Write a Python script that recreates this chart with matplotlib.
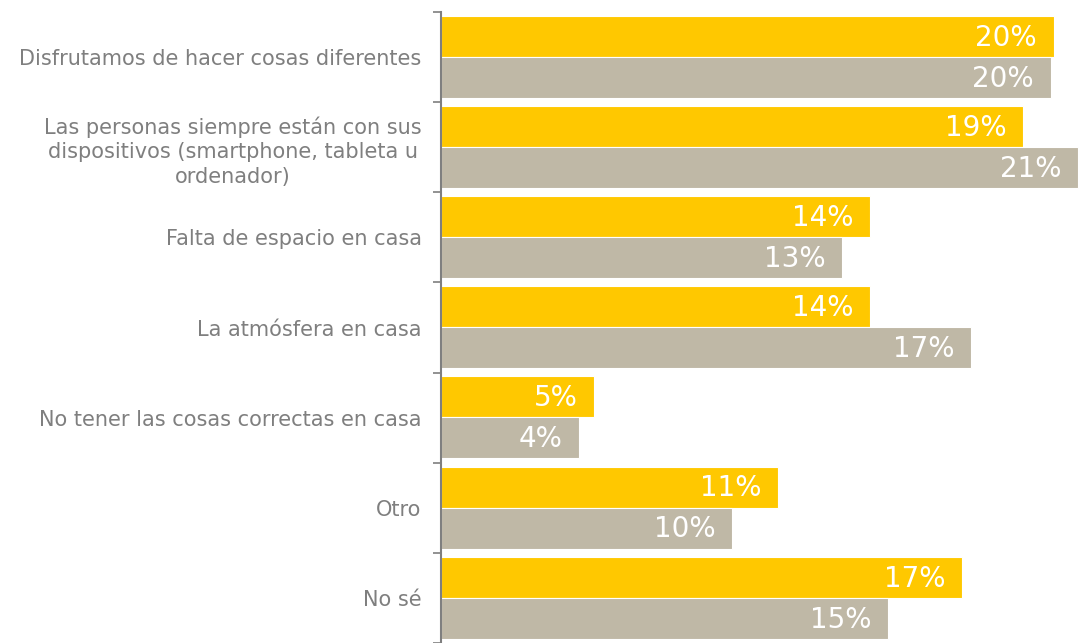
import matplotlib
matplotlib.use("Agg")
import matplotlib.pyplot as plt
import numpy as np

categorias = [
    "Disfrutamos de hacer cosas diferentes",
    "Las personas siempre están con sus\ndispositivos (smartphone, tableta u\nordenador)",
    "Falta de espacio en casa",
    "La atmósfera en casa",
    "No tener las cosas correctas en casa",
    "Otro",
    "No sé",
]
serie_amarilla = [20.0, 19.0, 14.0, 14.0, 5.0, 11.0, 17.0]
serie_gris = [19.9, 20.8, 13.1, 17.3, 4.5, 9.5, 14.6]
etiquetas_amarilla = ["20%", "19%", "14%", "14%", "5%", "11%", "17%"]
etiquetas_gris = ["20%", "21%", "13%", "17%", "4%", "10%", "15%"]

color_amarillo = "#FFC800"
color_gris = "#BFB8A6"
color_texto = "#7F7F7F"

plt.rcParams["font.family"] = "DejaVu Sans"

fig = plt.figure(figsize=(10.8, 6.43), dpi=100)
ax = fig.add_axes([441 / 1080, 0, 1 - 441 / 1080, 1 - 12 / 643])

y = np.arange(len(categorias))
alto = 0.455
ax.barh(y - 0.23, serie_amarilla, height=alto, color=color_amarillo,
        edgecolor="white", linewidth=0.8)
ax.barh(y + 0.225, serie_gris, height=alto, color=color_gris,
        edgecolor="white", linewidth=0.8)

for i in range(len(categorias)):
    ax.text(serie_amarilla[i] - 0.55, y[i] - 0.215, etiquetas_amarilla[i],
            ha="right", va="center", color="white", fontsize=20)
    ax.text(serie_gris[i] - 0.55, y[i] + 0.24, etiquetas_gris[i],
            ha="right", va="center", color="white", fontsize=20)

ax.set_xlim(0, 20.85)
ax.set_ylim(len(categorias) - 0.5, -0.5)
ax.set_xticks([])
ax.set_yticks(y)
ax.set_yticklabels(categorias, color=color_texto, fontsize=15,
                   multialignment="center", linespacing=1.3)
ax.set_yticks(np.arange(-0.5, len(categorias), 1), minor=True)
ax.tick_params(axis="y", which="major", length=0, pad=14)
ax.tick_params(axis="y", which="minor", length=6, color="#7F7F7F", width=1.2)
for s in ["top", "right", "bottom"]:
    ax.spines[s].set_visible(False)
ax.spines["left"].set_color("#7F7F7F")
ax.spines["left"].set_linewidth(1.5)

fig.savefig("out.png", dpi=100)
plt.close("all")
